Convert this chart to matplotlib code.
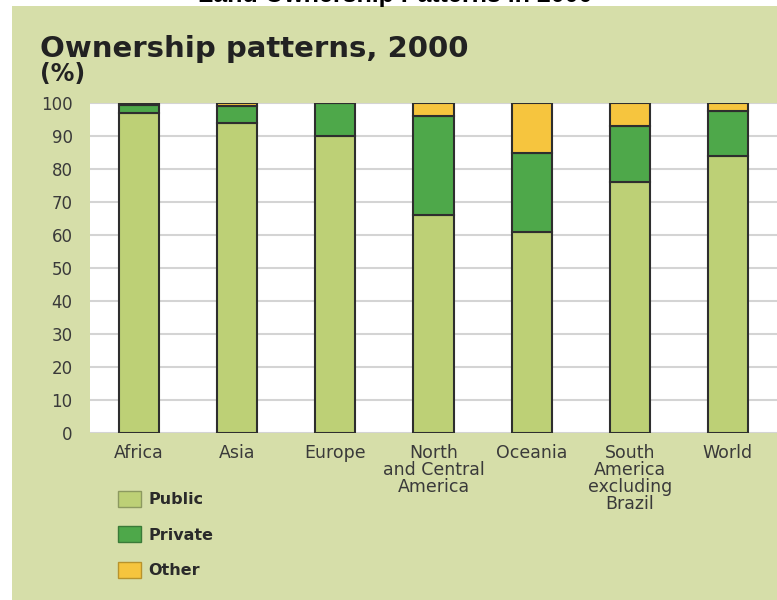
import numpy as np
import matplotlib
matplotlib.use("Agg")
import matplotlib.pyplot as plt
from matplotlib.patches import Patch, Rectangle

plt.rcParams['font.family'] = ['DejaVu Sans']

# data (%)
regions = ["Africa", "Asia", "Europe", "North\nand Central\nAmerica", "Oceania",
           "South\nAmerica\nexcluding\nBrazil", "World"]
public = [97, 94, 90, 66, 61, 76, 84]
private = [2.3, 5, 10, 30, 24, 17, 13.5]
other = [0.7, 1, 0, 4, 15, 7, 2.5]
series = ["Public", "Private", "Other"]
colors = ["#bdd076", "#4ea84a", "#f6c53e"]
edges = ["#8c9960", "#3a7a38", "#b8932c"]

panel = "#d6dea9"

fig = plt.figure(figsize=(7.77, 6), dpi=100)
fig.patch.set_facecolor("white")
# green panel behind everything
fig.patches.append(Rectangle((12 / 777, 0), 1, 1 - 6 / 600, transform=fig.transFigure,
                             facecolor=panel, edgecolor="none", zorder=-10))
# cropped title at top
fig.text(395 / 777, 1 - 2 / 600, "Land Ownership Patterns in 2000", ha="center",
         va="baseline", fontsize=18, fontweight="bold", color="black",
         family="Liberation Sans")

fig.text(40 / 777, 1 - 57 / 600, "Ownership patterns, 2000", fontsize=21,
         fontweight="bold", color="#222222", va="baseline")
fig.text(40 / 777, 1 - 81 / 600, "(%)", fontsize=17, fontweight="bold",
         color="#222222", va="baseline")

ax = fig.add_axes([90 / 777, (600 - 433) / 600, 687 / 777, 330 / 600])
ax.set_facecolor("white")

x = np.arange(len(regions))
w = 0.41
bottom = np.zeros(len(regions))
for vals, c in zip([public, private, other], colors):
    ax.bar(x, vals, w, bottom=bottom, color=c, edgecolor="#2e2e2e", linewidth=1.5, zorder=3)
    bottom += np.array(vals)

ax.set_xlim(-0.5, 6.5)
ax.set_ylim(0, 100)
ax.set_yticks(np.arange(0, 101, 10))
ax.yaxis.grid(True, color="#d4d4d4", linewidth=1.5, zorder=0)
for s in ax.spines.values():
    s.set_visible(False)
ax.tick_params(axis="both", length=0, labelsize=12, colors="#3a3a3a")
ax.tick_params(axis="y", pad=12.5)
ax.set_xticks(x)
ax.set_xticklabels(regions, linespacing=0.92, va="top", fontsize=12.5)
ax.tick_params(axis="x", pad=8)

handles = [Patch(facecolor=c, edgecolor=e, linewidth=1.0) for c, e in zip(colors, edges)]
fig.legend(handles, series, loc="upper left", bbox_to_anchor=(118 / 777, 1 - 491 / 600),
           frameon=False, prop={"size": 11.5, "weight": "bold"}, handlelength=1.45,
           handleheight=1.18, handletextpad=0.45, labelspacing=1.18, borderpad=0,
           borderaxespad=0, labelcolor="#2a2a2a")

fig.savefig("out.png", dpi=100, facecolor=fig.get_facecolor())
